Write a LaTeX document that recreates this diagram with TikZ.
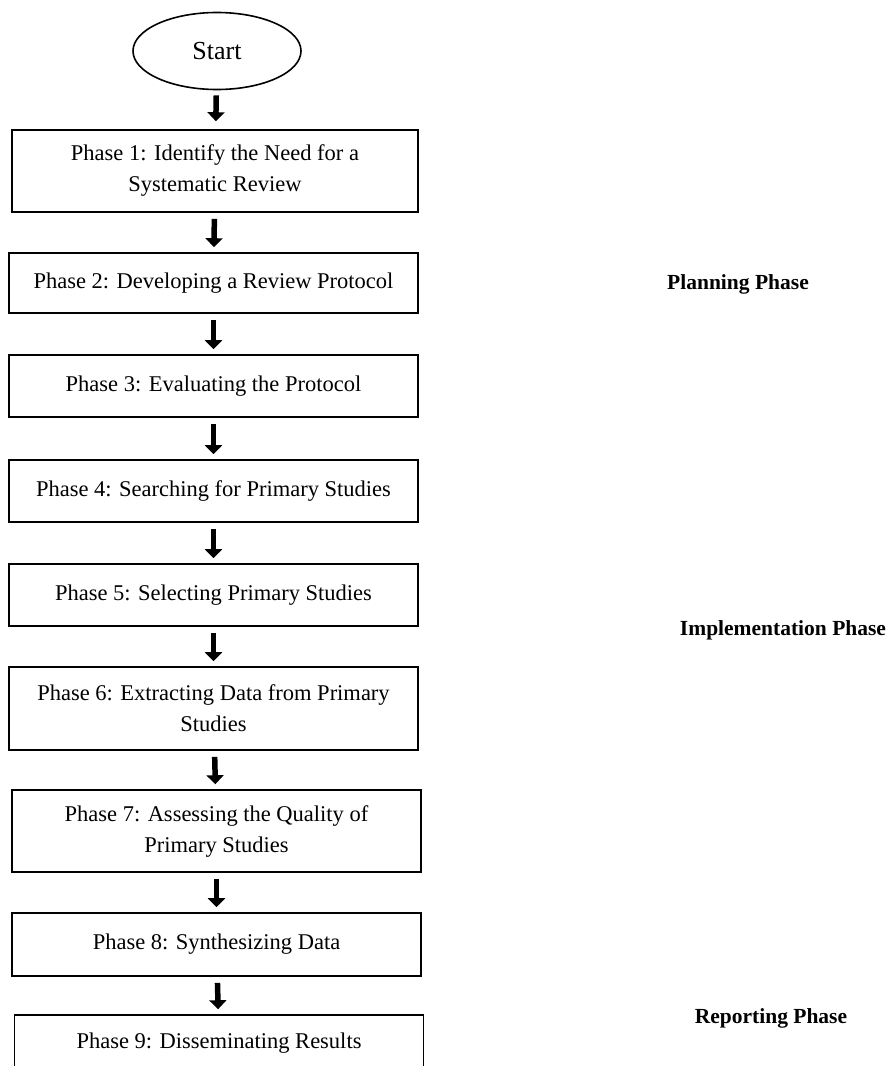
\documentclass[tikz,border=0pt]{standalone}
\usepackage{fontspec}
\setmainfont{Liberation Serif}
\usepackage{tikz}
\usetikzlibrary{arrows.meta,positioning,shapes.geometric}

\begin{document}
\begin{tikzpicture}[
    x=1pt,y=1pt,
    p/.style={draw, line width=1.6pt, align=center, minimum width=409pt,
              minimum height=62pt, inner sep=0pt, font=\fontsize{22.5}{31}\selectfont},
    pp/.style={p, minimum height=82pt},
    lbl/.style={font=\bfseries\fontsize{21.5}{24}\selectfont, inner sep=0pt},
    a/.style={-{Triangle[length=9pt,width=17pt]}, line width=5.5pt,
              shorten <=6pt, shorten >=5pt}
]
\useasboundingbox (0,0) rectangle (888,-1066);
\clip (0,0) rectangle (888,-1066);

% Start
\node[draw, ellipse, line width=1.6pt, minimum width=168pt, minimum height=77pt,
      inner sep=0pt, font=\fontsize{26}{30}\selectfont] (start) at (217,-51) {Start};

% Planning phases
\node[pp, minimum width=406pt] (ph1) at (215,-171) {Phase 1: Identify the Need for a\\Systematic Review};
\node[p, minimum height=60pt] (ph2) at (213.5,-283) {Phase 2: Developing a Review Protocol};
\node[p] (ph3) at (213.5,-386) {Phase 3: Evaluating the Protocol};

% Implementation phases
\node[p] (ph4) at (213.5,-491) {Phase 4: Searching for Primary Studies};
\node[p] (ph5) at (213.5,-595) {Phase 5: Selecting Primary Studies};
\node[pp, minimum height=83pt] (ph6) at (213.5,-708.5) {Phase 6: Extracting Data from Primary\\Studies};
\node[pp] (ph7) at (216.5,-831) {Phase 7: Assessing the Quality of\\Primary Studies};
\node[p, minimum height=63pt] (ph8) at (216.5,-944.5) {Phase 8: Synthesizing Data};

% Reporting phase
\node[p, minimum height=56pt] (ph9) at (219,-1043) {Phase 9: Disseminating Results};

% Phase labels
\node[lbl] (planning) at (738,-284) {Planning Phase};
\node[lbl] (implementation) at (783,-630) {Implementation Phase};
\node[lbl] (reporting) at (771,-1018) {Reporting Phase};

\draw[a, shorten <=5pt, shorten >=8pt] (start) -- (ph1);
\draw[a] (ph1) -- (ph2);
\draw[a] (ph2) -- (ph3);
\draw[a] (ph3) -- (ph4);
\draw[a] (ph4) -- (ph5);
\draw[a] (ph5) -- (ph6);
\draw[a] (ph6) -- (ph7);
\draw[a] (ph7) -- (ph8);
\draw[a] (ph8) -- (ph9);
\end{tikzpicture}
\end{document}
